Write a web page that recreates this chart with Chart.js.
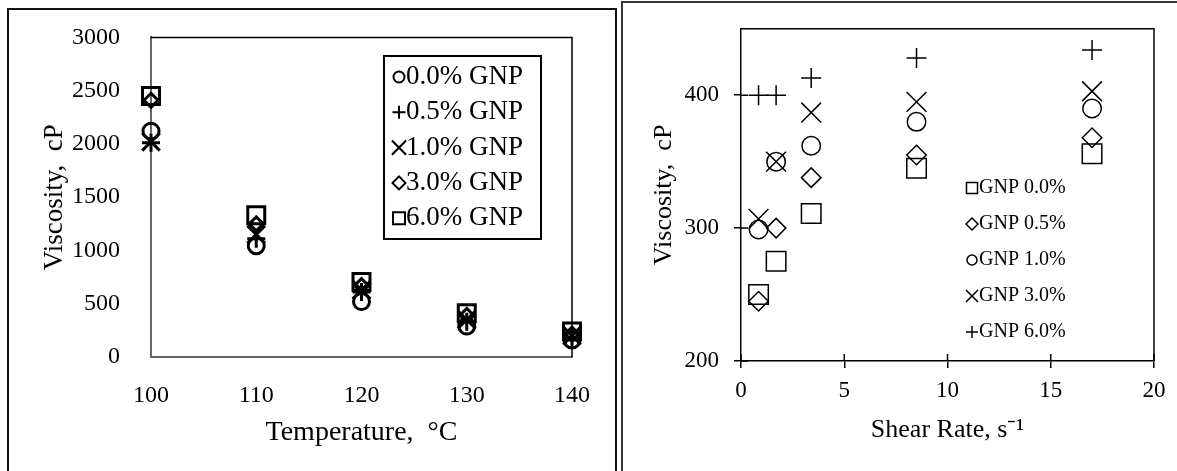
<!DOCTYPE html>
<html>
<head>
<meta charset="utf-8">
<script src="https://cdn.jsdelivr.net/npm/chart.js"></script>
<style>
  html, body { margin: 0; padding: 0; background: #fff; overflow: hidden; width: 1177px; height: 471px; }
  .box { position: absolute; box-sizing: border-box; }
  #boxL { left: 7px; top: 8px; width: 610px; height: 500px; border: 2px solid #111; }
  #boxR { left: 621px; top: 1px; width: 580px; height: 500px; border: 2px solid #333; }
  canvas { position: absolute; top: 0; }
  #left { left: 0; }
  #right { left: 619px; }
</style>
</head>
<body>
<div class="box" id="boxL"></div>
<div class="box" id="boxR"></div>
<canvas id="left" width="619" height="471"></canvas>
<canvas id="right" width="558" height="471"></canvas>
<script>
// ---- left chart: viscosity vs temperature ----
const temps = [100, 110, 120, 130, 140];
const leftLabels = ["0.0% GNP", "0.5% GNP", "1.0% GNP", "3.0% GNP", "6.0% GNP"];
const visc00 = [2120, 1045, 520, 290, 160];
const visc05 = [2010, 1110, 610, 330, 185];
const visc10 = [2020, 1150, 630, 350, 200];
const visc30 = [2410, 1250, 670, 390, 215];
const visc60 = [2450, 1330, 705, 410, 240];

// ---- right chart: viscosity vs shear rate ----
const shear = [0.85, 1.7, 3.4, 8.5, 17];
const rightLabels = ["GNP 0.0%", "GNP 0.5%", "GNP 1.0%", "GNP 3.0%", "GNP 6.0%"];
const shear00 = [250, 275, 311, 345, 356];
const shear05 = [245, 300, 338, 355, 368];
const shear10 = [299, 350, 362, 380, 390];
const shear30 = [307, 350, 387, 395, 403];
const shear60 = [400, 400, 413, 428, 434];

const yLeftTicks = [0, 3000, 500];
const xLeftTicks = [100, 140, 10];
const yRightTicks = [200, 450, 100];
const xRightTicks = [0, 20, 5];

const SERIF = "'Liberation Serif', 'Times New Roman', serif";

function toPts(xs, ys) {
  return xs.map((x, i) => ({ x: x, y: ys[i] }));
}

function drawMark(ctx, style, x, y, r) {
  ctx.beginPath();
  if (style === "circle") {
    ctx.arc(x, y, r, 0, Math.PI * 2);
  } else if (style === "rect") {
    const h = r * Math.SQRT1_2;
    ctx.rect(x - h, y - h, 2 * h, 2 * h);
  } else if (style === "rectRot") {
    ctx.moveTo(x - r, y); ctx.lineTo(x, y - r); ctx.lineTo(x + r, y); ctx.lineTo(x, y + r); ctx.closePath();
  } else if (style === "cross") {
    ctx.moveTo(x - r, y); ctx.lineTo(x + r, y); ctx.moveTo(x, y - r); ctx.lineTo(x, y + r);
  } else if (style === "crossRot") {
    const h = r * Math.SQRT1_2;
    ctx.moveTo(x - h, y - h); ctx.lineTo(x + h, y + h); ctx.moveTo(x - h, y + h); ctx.lineTo(x + h, y - h);
  }
  ctx.stroke();
}

// frame round the plot area, and the inner half of crossing ticks
const plotFrame = {
  id: "plotFrame",
  afterDatasetsDraw(chart, args, o) {
    const { ctx, chartArea: a } = chart;
    ctx.save();
    ctx.strokeStyle = "#000";
    ctx.lineWidth = o.width;
    ctx.beginPath();
    ctx.moveTo(a.left, a.top); ctx.lineTo(a.right, a.top); ctx.lineTo(a.right, a.bottom);
    ctx.stroke();
    if (o.innerTicks) {
      ctx.lineWidth = 1.5;
      ctx.beginPath();
      chart.scales.x.ticks.forEach(t => {
        const px = chart.scales.x.getPixelForValue(t.value);
        ctx.moveTo(px, a.bottom); ctx.lineTo(px, a.bottom - o.innerTicks);
      });
      chart.scales.y.ticks.forEach(t => {
        const py = chart.scales.y.getPixelForValue(t.value);
        ctx.moveTo(a.left, py); ctx.lineTo(a.left + o.innerTicks, py);
      });
      ctx.stroke();
    }
    ctx.restore();
  }
};

const boxLegend = {
  id: "boxLegend",
  afterDraw(chart, args, o) {
    const ctx = chart.ctx;
    ctx.save();
    ctx.strokeStyle = "#000";
    if (o.box) {
      ctx.lineWidth = 2;
      ctx.strokeRect(o.box[0], o.box[1], o.box[2], o.box[3]);
    }
    ctx.font = o.font;
    ctx.fillStyle = "#000";
    ctx.textBaseline = "middle";
    chart.data.datasets.forEach((ds, i) => {
      const y = o.y + i * o.step;
      ctx.lineWidth = o.markWidth;
      drawMark(ctx, ds.pointStyle, o.markX, y, o.radii[i]);
      ctx.fillText(ds.label, o.textX, y);
    });
    ctx.restore();
  }
};

const leftStyles = ["circle", "cross", "crossRot", "rectRot", "rect"];
const leftRadius = [8, 9, 12.5, 7, 12];
const leftData = [visc00, visc05, visc10, visc30, visc60];

const rightStyles = ["rect", "rectRot", "circle", "crossRot", "cross"];
const rightRadius = [13.8, 9.75, 9.25, 14, 10];
const rightData = [shear00, shear05, shear10, shear30, shear60];

function makeSets(labels, xs, ys, styles, radii, bw) {
  return labels.map((lab, i) => ({
    label: lab,
    data: toPts(xs, ys[i]),
    pointStyle: styles[i],
    pointRadius: radii[i],
    pointBorderWidth: bw,
    pointBorderColor: "#000",
    pointBackgroundColor: "rgba(0,0,0,0)",
    showLine: false,
    clip: false
  }));
}

const plain = v => String(v);

new Chart(document.getElementById("left"), {
  type: "scatter",
  data: { datasets: makeSets(leftLabels, temps, leftData, leftStyles, leftRadius, 3) },
  options: {
    responsive: false,
    animation: false,
    devicePixelRatio: 1,
    layout: { padding: { left: 35, top: 25, right: 47, bottom: 18 } },
    plugins: {
      legend: { display: false },
      tooltip: { enabled: false },
      plotFrame: { width: 1.5 },
      boxLegend: {
        box: [384, 56, 157, 183],
        font: "27px " + SERIF,
        markX: 399, textX: 406, y: 77, step: 35.3,
        markWidth: 2,
        radii: [5.5, 6.5, 10, 6.5, 8.5]
      }
    },
    scales: {
      x: {
        type: "linear",
        min: xLeftTicks[0], max: xLeftTicks[1],
        ticks: { stepSize: xLeftTicks[2], color: "#000", font: { family: SERIF, size: 24 }, padding: 16, callback: plain },
        grid: { display: false },
        border: { color: "#666", width: 2 },
        title: { display: true, text: "Temperature,  °C", color: "#000", font: { family: SERIF, size: 28 } },
        afterFit(s) { s.height = 96; }
      },
      y: {
        min: yLeftTicks[0], max: yLeftTicks[1],
        ticks: { stepSize: yLeftTicks[2], color: "#000", font: { family: SERIF, size: 24 }, padding: 23, callback: plain },
        grid: { display: false },
        border: { color: "#666", width: 2 },
        title: { display: true, text: "Viscosity,  cP", color: "#000", font: { family: SERIF, size: 27 } },
        afterFit(s) { s.width = 116; }
      }
    }
  },
  plugins: [plotFrame, boxLegend]
});

new Chart(document.getElementById("right"), {
  type: "scatter",
  data: { datasets: makeSets(rightLabels, shear, rightData, rightStyles, rightRadius, 1.5) },
  options: {
    responsive: false,
    animation: false,
    devicePixelRatio: 1,
    layout: { padding: { left: 26, top: 27, right: 23, bottom: 21 } },
    plugins: {
      legend: { display: false },
      tooltip: { enabled: false },
      plotFrame: { width: 1.5, innerTicks: 7 },
      boxLegend: {
        font: "20px " + SERIF,
        markX: 353, textX: 360, y: 188, step: 36,
        markWidth: 1.5,
        radii: [7.8, 6, 5, 8.5, 6]
      }
    },
    scales: {
      x: {
        type: "linear",
        min: xRightTicks[0], max: xRightTicks[1],
        ticks: { stepSize: xRightTicks[2], color: "#000", font: { family: SERIF, size: 23 }, padding: 9, callback: plain },
        grid: { drawOnChartArea: false, drawTicks: true, tickLength: 7, color: "#000", lineWidth: 1.5 },
        border: { color: "#000", width: 1.5 },
        title: { display: true, text: "Shear Rate, s\u207B\u00B9", color: "#000", font: { family: SERIF, size: 26 } },
        afterFit(s) { s.height = 89; }
      },
      y: {
        min: yRightTicks[0], max: yRightTicks[1],
        ticks: { stepSize: yRightTicks[2], color: "#000", font: { family: SERIF, size: 23 }, padding: 15, callback: plain },
        grid: { drawOnChartArea: false, drawTicks: true, tickLength: 7, color: "#000", lineWidth: 1.5 },
        border: { color: "#000", width: 1.5 },
        title: { display: true, text: "Viscosity,  cP", color: "#000", font: { family: SERIF, size: 26 } },
        afterBuildTicks(s) { s.ticks = s.ticks.filter(t => t.value % yRightTicks[2] === 0); },
        afterFit(s) { s.width = 96; }
      }
    }
  },
  plugins: [plotFrame, boxLegend]
});
</script>
</body>
</html>
